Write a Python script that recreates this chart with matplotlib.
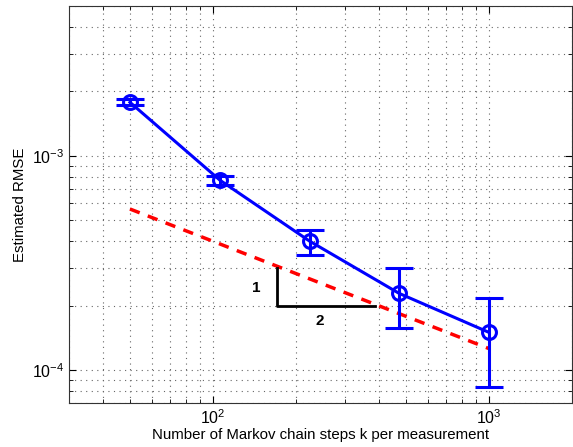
import matplotlib
matplotlib.use('Agg')
import matplotlib.pyplot as plt
import numpy as np

plt.rcParams['font.family'] = ['Liberation Sans', 'DejaVu Sans']
plt.rcParams['mathtext.default'] = 'regular'

# data
steps = [50, 106, 224, 473, 1000]
rmse = [1.78e-3, 7.7e-4, 4.0e-4, 2.28e-4, 1.5e-4]
err_lo = [1.72e-3, 7.3e-4, 3.43e-4, 1.57e-4, 8.3e-5]
err_hi = [1.84e-3, 8.1e-4, 4.5e-4, 2.99e-4, 2.16e-4]

ref_x = [50, 1000]
ref_y = [5.65e-4, 1.26e-4]

tri_x = [170, 170, 388]
tri_y = [3.0e-4, 2.0e-4, 2.0e-4]

fig = plt.figure(figsize=(5.73, 4.47), dpi=100)
ax = fig.add_axes([0.120, 0.098, 0.878, 0.888])

yerr = [np.array(rmse) - np.array(err_lo), np.array(err_hi) - np.array(rmse)]
ax.errorbar(steps, rmse, yerr=yerr, color='#0000ff', lw=2.2, marker='o',
            ms=10, mfc='none', mew=2.2, capsize=10, capthick=2.2, elinewidth=2.2, zorder=3)
ax.plot(ref_x, ref_y, color='#ff0000', lw=2.5, ls=(0, (3, 2.5)), zorder=2)
ax.plot(tri_x, tri_y, color='black', lw=2, zorder=2)
ax.text(143, 2.41e-4, '1', fontsize=11, fontweight='bold', ha='center', va='center')
ax.text(243, 1.69e-4, '2', fontsize=11, fontweight='bold', ha='center', va='center')

ax.set_xscale('log')
ax.set_yscale('log')
ax.set_xlim(30, 2000)
ax.set_ylim(7e-5, 5e-3)

ax.grid(True, which='both', ls=(0, (1, 4)), color='#666666', lw=0.8)
ax.tick_params(which='both', direction='in', top=True, right=True, labelsize=11.5)
ax.tick_params(which='major', length=5)
ax.tick_params(which='minor', length=3)
for s in ax.spines.values():
    s.set_color('#333333')

ax.set_xlabel('Number of Markov chain steps k per measurement', fontsize=10.8, labelpad=1)
ax.set_ylabel('Estimated RMSE', fontsize=10.8, labelpad=3)

fig.savefig('out.png', dpi=100)
